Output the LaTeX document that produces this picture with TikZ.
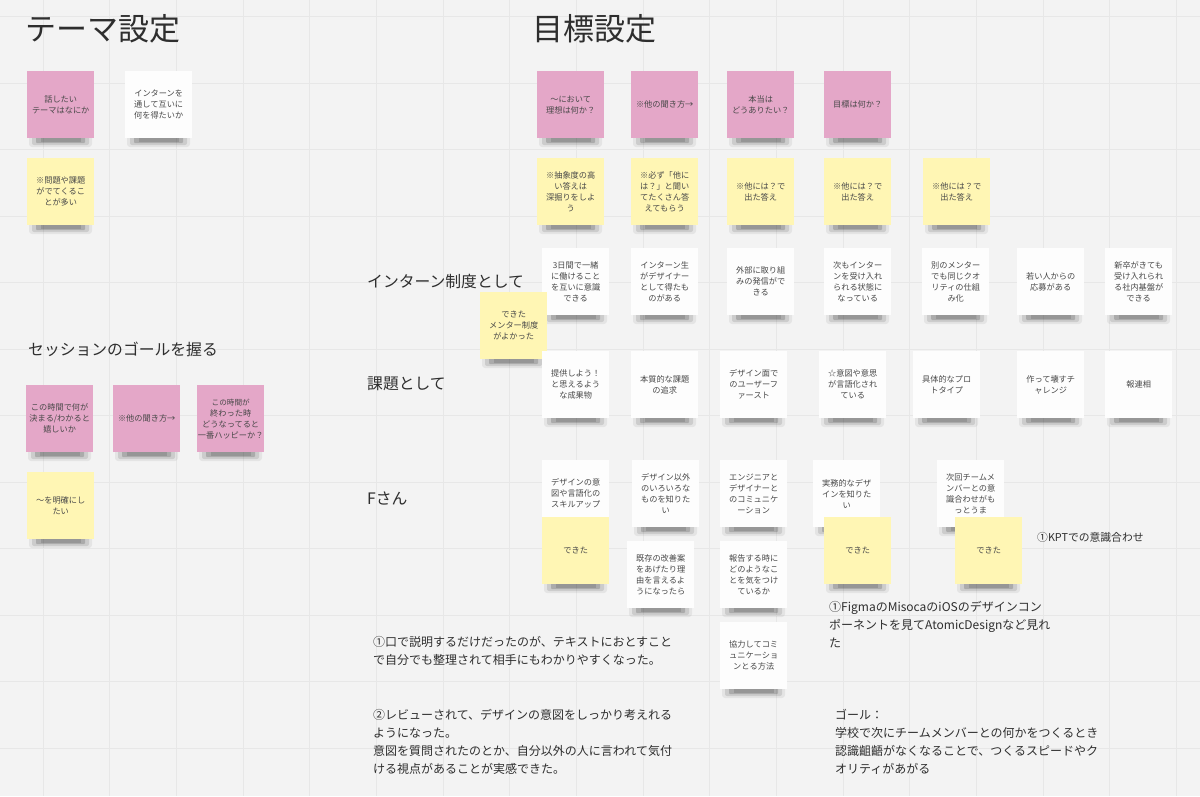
\documentclass[tikz,border=0pt]{standalone}
\usepackage{fontspec}
\setmainfont{Noto Sans CJK JP}
\definecolor{bgc}{HTML}{F3F3F3}
\definecolor{gridc}{HTML}{E7E7E7}
\definecolor{notepink}{HTML}{E4A7C8}
\definecolor{noteyellow}{HTML}{FFF6B4}
\definecolor{notewhite}{HTML}{FDFDFD}
\definecolor{notetext}{HTML}{484848}
\definecolor{titletext}{HTML}{2E2E2E}
\tikzset{
  note/.style={anchor=north west, minimum width=67pt, minimum height=67pt, inner sep=0pt,
    align=center, font=\fontsize{8.2}{11}\selectfont, text=notetext},
  pinknote/.style={note, fill=notepink},
  yellownote/.style={note, fill=noteyellow},
  whitenote/.style={note, fill=notewhite},
  bigtitle/.style={anchor=base west, inner sep=0pt, font=\fontsize{31}{31}\selectfont, text=titletext},
  rowlabel/.style={anchor=base west, inner sep=0pt, font=\fontsize{15.8}{18}\selectfont, text=titletext},
  bodytext/.style={anchor=north west, inner sep=0pt, align=left, font=\fontsize{12}{18}\selectfont, text=titletext},
}
\newcommand\notesh[2]{%
  \fill[black, opacity=.06, rounded corners=3pt] (#1+2,#2+60) rectangle (#1+65,#2+76);
  \fill[black, opacity=.10, rounded corners=2pt] (#1+5,#2+62) rectangle (#1+62,#2+74);
  \fill[black, opacity=.16, rounded corners=1pt] (#1+9,#2+64) rectangle (#1+58,#2+72);
  \fill[black, opacity=.12] (#1+14,#2+66) rectangle (#1+54,#2+71);
}
\newcommand\stick[5]{\notesh{#3}{#4}\node[#2] (#1) at (#3,#4) {#5};}
\begin{document}
\begin{tikzpicture}[x=1pt,y=-1pt]
\useasboundingbox (0,0) rectangle (1200,796);
\fill[bgc] (0,0) rectangle (1200,796);
\foreach \i in {0,...,17} {\draw[gridc, line width=0.8pt] ({43+66.67*\i},0) -- ({43+66.67*\i},796);}
\foreach \j in {0,...,11} {\draw[gridc, line width=0.8pt] (0,{16.5+66.5*\j}) -- (1200,{16.5+66.5*\j});}

% titles
\node[bigtitle] (t1) at (25,40) {テーマ設定};
\node[bigtitle] (t2) at (532,40) {目標設定};
\node[rowlabel] (s1) at (28,355) {セッションのゴールを握る};
\node[rowlabel] (r1) at (367,287) {インターン制度として};
\node[rowlabel] (r2) at (367,389) {課題として};
\node[rowlabel] (r3) at (367,504) {Fさん};

% left column
\stick{l1}{pinknote}{27}{71}{話したい\\テーマはなにか}
\stick{l2}{whitenote}{125}{71}{インターンを\\通して互いに\\何を得たいか}
\stick{l3}{yellownote}{27}{158}{※問題や課題\\がでてくるこ\\とが多い}
\stick{g1}{pinknote}{26}{385}{この時間で何が\\決まる/わかると\\嬉しいか}
\stick{g2}{pinknote}{113}{385}{※他の聞き方→}
\stick{g3}{pinknote}{197}{385}{\fontsize{7.6}{10.5}\selectfont この時間が\\終わった時\\どうなってると\\一番ハッピーか？}
\stick{g4}{yellownote}{27}{472}{〜を明確にし\\たい}

% goal setting top
\stick{p1}{pinknote}{537}{71}{〜において\\理想は何か？}
\stick{p2}{pinknote}{631}{71}{※他の聞き方→}
\stick{p3}{pinknote}{727}{71}{本当は\\どうありたい？}
\stick{p4}{pinknote}{824}{71}{目標は何か？}
\stick{y1}{yellownote}{537}{158}{※抽象度の高\\い答えは\\深掘りをしよ\\う}
\stick{y2}{yellownote}{631}{158}{※必ず「他に\\は？」と聞い\\てたくさん答\\えてもらう}
\stick{y3}{yellownote}{727}{158}{※他には？で\\出た答え}
\stick{y4}{yellownote}{824}{158}{※他には？で\\出た答え}
\stick{y5}{yellownote}{923}{158}{※他には？で\\出た答え}

% internship row
\stick{i1}{whitenote}{542}{248}{3日間で一緒\\に働けること\\を互いに意識\\できる}
\stick{i2}{whitenote}{631}{248}{インターン生\\がデザイナー\\として得たも\\のがある}
\stick{i3}{whitenote}{727}{248}{外部に取り組\\みの発信がで\\きる}
\stick{i4}{whitenote}{824}{248}{次もインター\\ンを受け入れ\\られる状態に\\なっている}
\stick{i5}{whitenote}{922}{248}{別のメンター\\でも同じクオ\\リティの仕組\\み化}
\stick{i6}{whitenote}{1017}{248}{若い人からの\\応募がある}
\stick{i7}{whitenote}{1105}{248}{新卒がきても\\受け入れられ\\る社内基盤が\\できる}
\stick{i0}{yellownote}{480}{292}{できた\\メンター制度\\がよかった}

% issues row
\stick{k1}{whitenote}{542}{351}{提供しよう！\\と思えるよう\\な成果物}
\stick{k2}{whitenote}{631}{351}{本質的な課題\\の追求}
\stick{k3}{whitenote}{720}{351}{デザイン面で\\のユーザーフ\\ァースト}
\stick{k4}{whitenote}{819}{351}{☆意図や意思\\が言語化され\\ている}
\stick{k5}{whitenote}{913}{351}{具体的なプロ\\トタイプ}
\stick{k6}{whitenote}{1017}{351}{作って壊すチ\\ャレンジ}
\stick{k7}{whitenote}{1105}{351}{報連相}

% F row
\stick{f1}{whitenote}{542}{460}{デザインの意\\図や言語化の\\スキルアップ}
\stick{f1d}{yellownote}{542}{517}{できた}
\stick{f2}{whitenote}{632}{460}{デザイン以外\\のいろいろな\\ものを知りた\\い}
\stick{f3}{whitenote}{720}{460}{エンジニアと\\デザイナーと\\のコミュニケ\\ーション}
\stick{f4}{whitenote}{627}{541}{既存の改善案\\をあげたり理\\由を言えるよ\\うになったら}
\stick{f5}{whitenote}{720}{541}{報告する時に\\どのようなこ\\とを気をつけ\\ているか}
\stick{f6}{whitenote}{720}{622}{協力してコミ\\ュニケーショ\\ンとる方法}
\stick{f7}{whitenote}{813}{460}{実務的なデザ\\インを知りた\\い}
\stick{f7d}{yellownote}{824}{517}{できた}
\stick{f8}{whitenote}{937}{460}{次回チームメ\\ンバーとの意\\識合わせがも\\っとうま}
\stick{f8d}{yellownote}{955}{517}{できた}

% free texts
\node[bodytext, font=\fontsize{10.8}{16}\selectfont] (kpt) at (1037,532) {①KPTでの意識合わせ};
\node[bodytext] (fig) at (829,601) {①FigmaのMisocaのiOSのデザインコン\\ポーネントを見てAtomicDesignなど見れ\\た};
\node[bodytext] (b1) at (373,636) {①口で説明するだけだったのが、テキストにおとすこと\\で自分でも整理されて相手にもわかりやすくなった。};
\node[bodytext] (b2) at (373,709) {②レビューされて、デザインの意図をしっかり考えれる\\ようになった。\\意図を質問されたのとか、自分以外の人に言われて気付\\ける視点があることが実感できた。};
\node[bodytext] (goal) at (835,709) {ゴール：\\学校で次にチームメンバーとの何かをつくるとき\\認識齟齬がなくなることで、つくるスピードやク\\オリティがあがる};
\end{tikzpicture}
\end{document}
